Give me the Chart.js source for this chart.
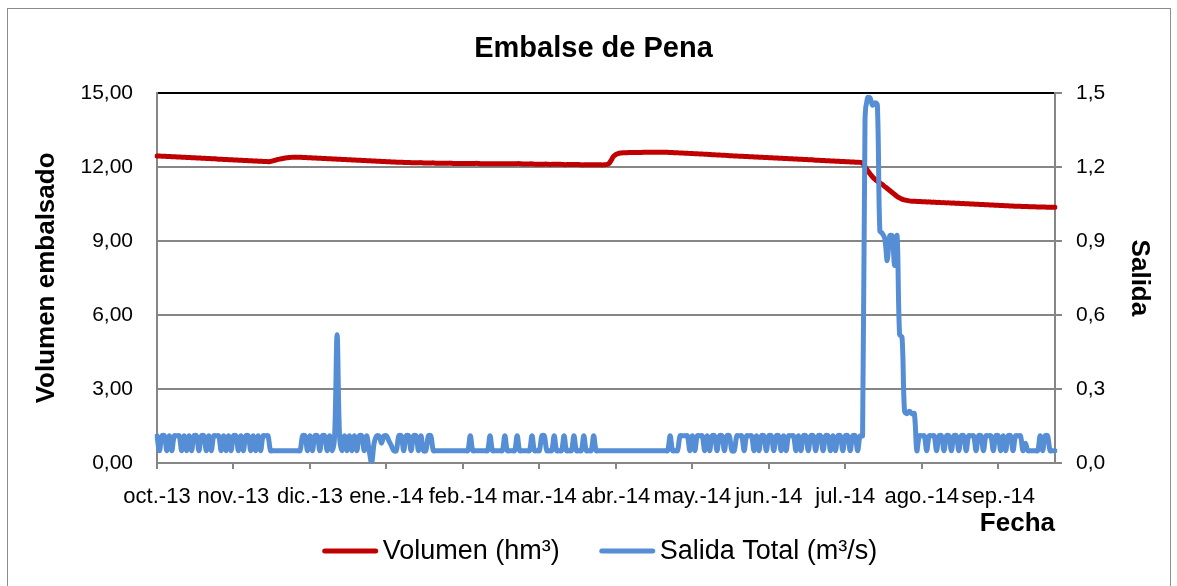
<!DOCTYPE html>
<html>
<head>
<meta charset="utf-8">
<title>Embalse de Pena</title>
<script src="https://cdn.jsdelivr.net/npm/chart.js@4.4.1/dist/chart.umd.min.js"></script>
<style>
  html, body { margin: 0; padding: 0; background: #fff; }
  #wrap { position: relative; width: 1177px; height: 586px; overflow: hidden; }
  #frame { position: absolute; left: 7px; top: 8px; width: 1162px; height: 600px; border: 1px solid #8c8c8c; pointer-events: none; }
  canvas { position: absolute; left: 0; top: 0; }
</style>
</head>
<body>
<div id="wrap">
  <canvas id="chart" width="1177" height="586"></canvas>
  <div id="frame"></div>
</div>
<script>
// hydrological year oct-2013 .. sep-2014, one value per day
const startDate = new Date(2013, 9, 1);
const dayCount = 365;
const monthNames = ['ene.', 'feb.', 'mar.', 'abr.', 'may.', 'jun.', 'jul.', 'ago.', 'sep.', 'oct.', 'nov.', 'dic.'];
const tickEvery = 31; // excel shows a date label every 31 categories

// Volumen (hm3)
const volumen = [
  12.44,12.44,12.43,12.43,12.42,12.42,12.41,12.41,12.40,12.40,
  12.39,12.39,12.38,12.38,12.37,12.37,12.36,12.36,12.35,12.35,
  12.34,12.34,12.33,12.33,12.32,12.31,12.31,12.30,12.30,12.29,
  12.29,12.28,12.28,12.27,12.27,12.26,12.26,12.25,12.25,12.24,
  12.24,12.23,12.23,12.22,12.22,12.21,
  12.22,12.24,12.27,12.30,12.32,12.34,12.36,12.37,12.38,12.39,12.39,12.39,
  12.39,12.38,12.38,12.37,12.37,12.36,12.36,12.35,12.35,12.34,
  12.34,12.33,12.33,12.32,12.32,12.31,12.31,12.30,12.30,12.29,
  12.29,12.28,12.28,12.27,12.27,12.26,12.26,12.25,12.25,12.24,
  12.24,12.23,12.23,12.22,12.22,12.21,12.21,12.20,12.20,12.19,
  12.19,12.19,12.18,12.18,12.18,12.17,12.17,12.17,
  12.17,12.17,12.16,12.16,12.16,12.16,12.16,12.15,12.15,12.15,
  12.15,12.15,12.15,12.15,12.14,12.14,12.14,12.14,12.14,12.14,
  12.14,12.14,12.14,12.14,12.14,12.13,12.13,12.13,12.13,12.13,
  12.13,12.13,12.13,12.13,12.13,12.13,12.13,12.13,12.13,12.13,12.13,
  12.13,12.12,12.12,12.12,12.12,12.12,12.11,12.11,12.11,12.11,
  12.11,12.11,12.10,12.10,12.10,12.10,12.10,12.10,12.09,12.09,
  12.09,12.09,12.09,12.09,12.09,12.08,12.08,12.08,12.08,12.08,
  12.08,12.08,12.08,12.08,12.08,12.09,
  12.12,12.25,12.42,12.50,12.54,12.56,12.57,
  12.57,12.58,12.58,12.58,12.58,12.58,12.58,12.59,12.59,12.59,
  12.59,12.59,12.59,12.59,12.59,12.59,12.59,12.59,
  12.58,12.58,12.57,12.57,12.56,12.56,12.55,12.55,12.54,12.54,
  12.53,12.53,12.52,12.52,12.51,12.51,12.50,12.49,12.49,12.48,
  12.48,12.47,12.47,12.46,12.45,12.45,12.44,12.44,12.43,12.43,
  12.42,12.42,12.41,12.41,12.40,12.40,12.39,12.39,12.38,12.38,
  12.37,12.37,12.36,12.36,12.35,12.35,12.34,12.34,12.33,12.33,
  12.32,12.32,12.31,12.31,12.30,12.30,12.29,12.29,12.28,12.27,
  12.27,12.26,12.26,12.25,12.25,12.24,12.24,12.23,12.23,12.22,
  12.22,12.21,12.21,12.20,12.20,12.19,12.19,12.18,
  12.15,12.00,11.85,11.72,11.60,11.50,11.42,11.35,11.28,11.20,
  11.12,11.04,10.96,10.88,10.80,10.74,10.69,10.66,10.64,10.62,
  10.61,10.61,10.60,10.60,10.59,10.59,10.58,10.58,10.57,10.57,
  10.56,10.56,10.55,10.55,10.54,10.54,10.53,10.53,10.52,10.52,
  10.51,10.51,10.50,10.50,10.49,10.49,10.48,10.48,10.47,10.47,
  10.46,10.46,10.45,10.45,10.44,10.44,10.43,10.43,10.42,10.42,
  10.41,10.41,10.40,10.40,10.40,10.39,10.39,10.39,10.38,10.38,
  10.38,10.37,10.37,10.37,10.37,10.36,10.36,10.36,10.36
];

// Salida Total (m3/s)
const salida = [
  0.11,0.05,0.11,0.11,0.05,0.11,0.05,0.11,0.11,0.11,
  0.05,0.11,0.05,0.11,0.05,0.11,0.11,0.05,0.11,0.11,
  0.05,0.11,0.05,0.11,0.11,0.11,0.05,0.11,0.05,0.11,
  0.05,0.11,0.11,0.05,0.11,0.05,0.11,0.11,0.05,0.11,
  0.05,0.11,0.05,0.11,0.11,0.11,0.05,0.05,0.05,0.05,
  0.05,0.05,0.05,0.05,0.05,0.05,0.05,0.05,0.05,0.11,
  0.11,0.05,0.11,0.05,0.11,0.11,0.05,0.11,0.11,0.05,
  0.11,0.05,0.11,0.52,0.11,0.05,0.11,0.05,0.11,0.05,
  0.11,0.05,0.11,0.11,0.05,0.11,0.05,0.00,0.08,0.11,
  0.11,0.08,0.11,0.11,0.09,0.07,0.05,0.05,0.11,0.11,
  0.05,0.11,0.11,0.05,0.11,0.11,0.05,0.11,0.05,0.05,
  0.11,0.11,0.05,0.05,0.05,0.05,0.05,0.05,0.05,0.05,
  0.05,0.05,0.05,0.05,0.05,0.05,0.05,0.11,0.05,0.05,
  0.05,0.05,0.05,0.05,0.05,0.11,0.05,0.05,0.05,0.05,
  0.05,0.11,0.05,0.05,0.05,0.05,0.11,0.05,0.05,0.05,
  0.05,0.05,0.11,0.05,0.05,0.05,0.11,0.11,0.05,0.05,
  0.05,0.11,0.05,0.05,0.05,0.11,0.05,0.05,0.05,0.11,
  0.05,0.05,0.05,0.11,0.05,0.05,0.05,0.11,0.05,0.05,
  0.05,0.05,0.05,0.05,0.05,0.05,0.05,0.05,0.05,0.05,
  0.05,0.05,0.05,0.05,0.05,0.05,0.05,0.05,0.05,0.05,
  0.05,0.05,0.05,0.05,0.05,0.05,0.05,0.05,0.11,0.05,
  0.05,0.05,0.11,0.11,0.11,0.11,0.05,0.11,0.05,0.11,
  0.11,0.11,0.05,0.11,0.05,0.11,0.11,0.05,0.11,0.11,
  0.05,0.11,0.11,0.05,0.05,0.11,0.11,0.11,0.05,0.11,
  0.11,0.11,0.05,0.11,0.05,0.11,0.11,0.05,0.11,0.11,
  0.05,0.11,0.11,0.05,0.11,0.05,0.11,0.11,0.11,0.05,
  0.11,0.05,0.11,0.11,0.05,0.11,0.11,0.05,0.11,0.11,
  0.05,0.11,0.11,0.05,0.11,0.05,0.11,0.11,0.05,0.11,
  0.11,0.05,0.11,0.11,0.05,0.11,0.11,1.40,1.48,1.48,
  1.45,1.46,1.45,0.94,0.93,0.91,0.82,0.92,0.92,0.80,
  0.92,0.52,0.51,0.21,0.20,0.21,0.20,0.20,0.05,0.11,
  0.11,0.11,0.05,0.11,0.11,0.11,0.05,0.11,0.11,0.05,
  0.11,0.11,0.05,0.11,0.11,0.05,0.11,0.11,0.05,0.11,
  0.11,0.11,0.05,0.11,0.11,0.05,0.11,0.11,0.11,0.05,
  0.11,0.11,0.05,0.11,0.05,0.11,0.11,0.05,0.11,0.11,
  0.11,0.05,0.08,0.05,0.05,0.05,0.05,0.05,0.11,0.05,
  0.11,0.11,0.05,0.05,0.05
];

const labels = [];
for (let i = 0; i < dayCount; i++) {
  const d = new Date(startDate.getFullYear(), startDate.getMonth(), startDate.getDate() + i);
  labels.push(monthNames[d.getMonth()] + '-' + String(d.getFullYear()).slice(2));
}

const fontFamily = '"Liberation Sans", Arial, sans-serif';
const axisGray = '#868686';
const redColor = '#C00000';
const blueColor = '#558ED5';

Chart.defaults.font.family = fontFamily;
Chart.defaults.color = '#000';

// excel style legend: long line sample, text right after it
const bottomLegend = {
  id: 'bottomLegend',
  afterDraw(chart) {
    const c = chart.ctx;
    const y = chart.chartArea.bottom + 88;
    const lineLen = 55, textGap = 5, itemGap = 40;
    c.save();
    c.font = '27px ' + fontFamily;
    const items = chart.data.datasets.map((ds) => ({ text: ds.label, color: ds.borderColor, w: c.measureText(ds.label).width }));
    let total = itemGap * (items.length - 1);
    items.forEach((it) => { total += lineLen + textGap + it.w; });
    let x = 600 - total / 2;
    items.forEach((it) => {
      c.strokeStyle = it.color;
      c.lineWidth = 5;
      c.lineCap = 'round';
      c.beginPath();
      c.moveTo(x + 2, y);
      c.lineTo(x + lineLen - 2, y);
      c.stroke();
      c.fillStyle = '#000';
      c.textBaseline = 'middle';
      c.textAlign = 'left';
      c.fillText(it.text, x + lineLen + textGap, y + 1);
      x += lineLen + textGap + it.w + itemGap;
    });
    c.restore();
  }
};

const ctx = document.getElementById('chart').getContext('2d');
new Chart(ctx, {
  type: 'line',
  data: {
    labels: labels,
    datasets: [
      {
        label: 'Volumen (hm³)',
        data: volumen,
        yAxisID: 'y',
        borderColor: redColor,
        backgroundColor: redColor,
        borderWidth: 5,
        pointRadius: 0,
        tension: 0.4,
        borderCapStyle: 'round',
        borderJoinStyle: 'round',
        order: 1
      },
      {
        label: 'Salida Total (m³/s)',
        data: salida,
        yAxisID: 'y2',
        borderColor: blueColor,
        backgroundColor: blueColor,
        borderWidth: 5,
        pointRadius: 0,
        tension: 0.35,
        borderCapStyle: 'round',
        borderJoinStyle: 'round',
        order: 0
      }
    ]
  },
  plugins: [bottomLegend],
  options: {
    responsive: false,
    animation: false,
    devicePixelRatio: 1,
    layout: { padding: { left: 20, right: 10, top: 0, bottom: 47 } },
    plugins: {
      tooltip: { enabled: false },
      legend: { display: false },
      title: {
        display: true,
        text: 'Embalse de Pena',
        color: '#000',
        font: { size: 29, weight: 'bold', family: fontFamily },
        padding: { top: 32, bottom: 26 }
      }
    },
    scales: {
      x: {
        type: 'category',
        offset: false,
        grid: { display: true, drawOnChartArea: false, drawTicks: true, tickLength: 6, color: axisGray, lineWidth: 2 },
        border: { display: true, color: axisGray, width: 2 },
        ticks: {
          autoSkip: false,
          maxRotation: 0,
          minRotation: 0,
          padding: 15,
          font: { size: 22 },
          callback: function (value, index) {
            return index % tickEvery === 0 ? this.getLabelForValue(value) : null;
          }
        },
        title: {
          display: true,
          text: 'Fecha',
          align: 'end',
          font: { size: 26, weight: 'bold' },
          padding: { top: 0, bottom: 0 }
        },
        afterFit: (scale) => { scale.height = 76; }
      },
      y: {
        position: 'left',
        min: 0,
        max: 15,
        ticks: {
          stepSize: 3,
          padding: 24,
          font: { size: 21 },
          callback: (v) => v.toFixed(2).replace('.', ',')
        },
        grid: {
          color: (c) => (c.tick && c.tick.value === 15 ? '#000' : axisGray),
          lineWidth: 2,
          drawTicks: false
        },
        border: { display: true, color: axisGray, width: 2 },
        title: {
          display: true,
          text: 'Volumen embalsado',
          font: { size: 26, weight: 'bold' },
          padding: { top: 11, bottom: 0 }
        },
        afterFit: (scale) => { scale.width = 137; }
      },
      y2: {
        position: 'right',
        min: 0,
        max: 1.5,
        ticks: {
          stepSize: 0.3,
          padding: 14,
          font: { size: 21 },
          callback: (v) => v.toFixed(1).replace('.', ',')
        },
        grid: { drawOnChartArea: false, tickLength: 7, color: axisGray, lineWidth: 2 },
        border: { display: true, color: axisGray, width: 2 },
        title: {
          display: true,
          text: 'Salida',
          font: { size: 26, weight: 'bold' },
          padding: { top: 12, bottom: 0 }
        },
        afterFit: (scale) => { scale.width = 112; }
      }
    }
  }
});
</script>
</body>
</html>
